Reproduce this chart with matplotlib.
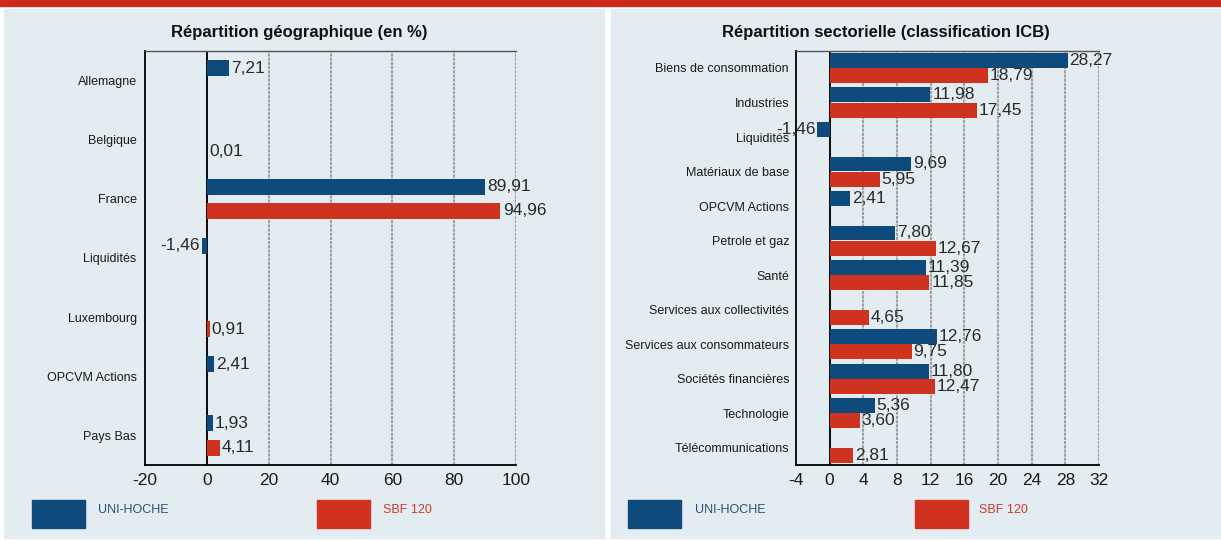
import numpy as np
import matplotlib
matplotlib.use("Agg")
import matplotlib.pyplot as plt
from matplotlib.patches import Rectangle

plt.rcParams['font.family'] = ['Liberation Sans', 'DejaVu Sans']

# données - répartition géographique
geo_cat = ["Allemagne", "Belgique", "France", "Liquidités", "Luxembourg",
           "OPCVM Actions", "Pays Bas"]
geo_uni = [7.21, None, 89.91, -1.46, None, 2.41, 1.93]
geo_sbf = [None, 0.01, 94.96, None, 0.91, None, 4.11]
geo_ticks = [-20, 0, 20, 40, 60, 80, 100]

# données - répartition sectorielle
sec_cat = ["Biens de consommation", "Industries", "Liquidités",
           "Matériaux de base", "OPCVM Actions", "Petrole et gaz", "Santé",
           "Services aux collectivités", "Services aux consommateurs",
           "Sociétés financières", "Technologie", "Télécommunications"]
sec_uni = [28.27, 11.98, -1.46, 9.69, 2.41, 7.80, 11.39, None, 12.76, 11.80, 5.36, None]
sec_sbf = [18.79, 17.45, None, 5.95, None, 12.67, 11.85, 4.65, 9.75, 12.47, 3.60, 2.81]
sec_ticks = [-4, 0, 4, 8, 12, 16, 20, 24, 28, 32]

BLEU = "#0f4a7c"
ROUGE = "#d03220"
FOND = "#e3ecf0"
W, H = 1221, 541


def fx(px):
    return px / W


def fy(py):
    return 1 - py / H


def fmt(v):
    return f"{v:.2f}".replace(".", ",")


def dessine(ax, cats, uni, sbf, ticks, off, hauteur, pad):
    pos = np.arange(len(cats))
    for vals, col, d in [(uni, BLEU, -off), (sbf, ROUGE, off)]:
        for p, v in zip(pos, vals):
            if v is None:
                continue
            ax.barh(p + d, v, height=hauteur, color=col, zorder=3)
            dx = (ticks[-1] - ticks[0]) * 0.006
            if v >= 0:
                ax.text(v + dx, p + d, fmt(v), ha="left", va="center",
                        fontsize=12.5, color="#2a2a2a", zorder=4)
            else:
                ax.text(v - dx, p + d, fmt(v), ha="right", va="center",
                        fontsize=12.5, color="#2a2a2a", zorder=4)
    ax.set_xlim(ticks[0], ticks[-1])
    ax.set_ylim(len(cats) - 0.5, -0.5)
    ax.set_xticks(ticks)
    ax.set_xticklabels([str(t) for t in ticks], fontsize=12.5, color="#1a1a1a")
    ax.set_yticks(pos)
    ax.set_yticklabels(cats, fontsize=9, color="#1a1a1a")
    ax.tick_params(axis="both", length=0)
    ax.tick_params(axis="y", pad=pad)
    ax.tick_params(axis="x", pad=6)
    ax.set_facecolor("none")
    for t in ticks[1:]:
        ax.axvline(t, color="#a0a0a0", lw=1.5, ls=(0, (1.5, 0.5)), zorder=1)
    ax.axvline(0, color="black", lw=1.3, zorder=2)
    ax.spines["left"].set_color("black")
    ax.spines["bottom"].set_color("black")
    ax.spines["left"].set_linewidth(1.3)
    ax.spines["bottom"].set_linewidth(1.3)
    ax.spines["top"].set_color("#555555")
    ax.spines["top"].set_linewidth(1)
    ax.spines["right"].set_visible(False)


fig = plt.figure(figsize=(12.21, 5.41), dpi=100, facecolor="white")

# bandeau rouge et fonds des panneaux
fig.patches.append(Rectangle((0, fy(6)), 1, 6 / H, transform=fig.transFigure,
                             color="#cc2a1a", zorder=-5))
fig.patches.append(Rectangle((fx(4), fy(538)), fx(604 - 4), (538 - 9) / H,
                             transform=fig.transFigure, color=FOND, zorder=-5))
fig.patches.append(Rectangle((fx(611), fy(538)), fx(1221 - 611), (538 - 9) / H,
                             transform=fig.transFigure, color=FOND, zorder=-5))

ax1 = fig.add_axes([fx(145), fy(465), fx(516 - 145), (465 - 50.7) / H])
ax2 = fig.add_axes([fx(796), fy(465), fx(1099 - 796), (465 - 50.7) / H])

dessine(ax1, geo_cat, geo_uni, geo_sbf, geo_ticks, 0.205, 0.27, 6)
dessine(ax2, sec_cat, sec_uni, sec_sbf, sec_ticks, 0.22, 0.43, 5)

fig.text(fx(299), fy(33), "Répartition géographique (en %)", ha="center",
         va="center", fontsize=12, fontweight="bold", color="#111111")
fig.text(fx(886), fy(33), "Répartition sectorielle (classification ICB)",
         ha="center", va="center", fontsize=12, fontweight="bold", color="#111111")

# légendes
for (xb, xt, col, txt, tcol) in [(32, 98, BLEU, "UNI-HOCHE", "#2f4f7a"),
                                 (317, 383, ROUGE, "SBF 120", "#d0392b"),
                                 (628, 695, BLEU, "UNI-HOCHE", "#2f4f7a"),
                                 (915, 979, ROUGE, "SBF 120", "#d0392b")]:
    fig.patches.append(Rectangle((fx(xb), fy(528)), fx(53), 28 / H,
                                 transform=fig.transFigure, color=col, zorder=1))
    fig.text(fx(xt), fy(510), txt, ha="left", va="center", fontsize=9, color=tcol)

fig.savefig("out.png", dpi=100, facecolor=fig.get_facecolor())
